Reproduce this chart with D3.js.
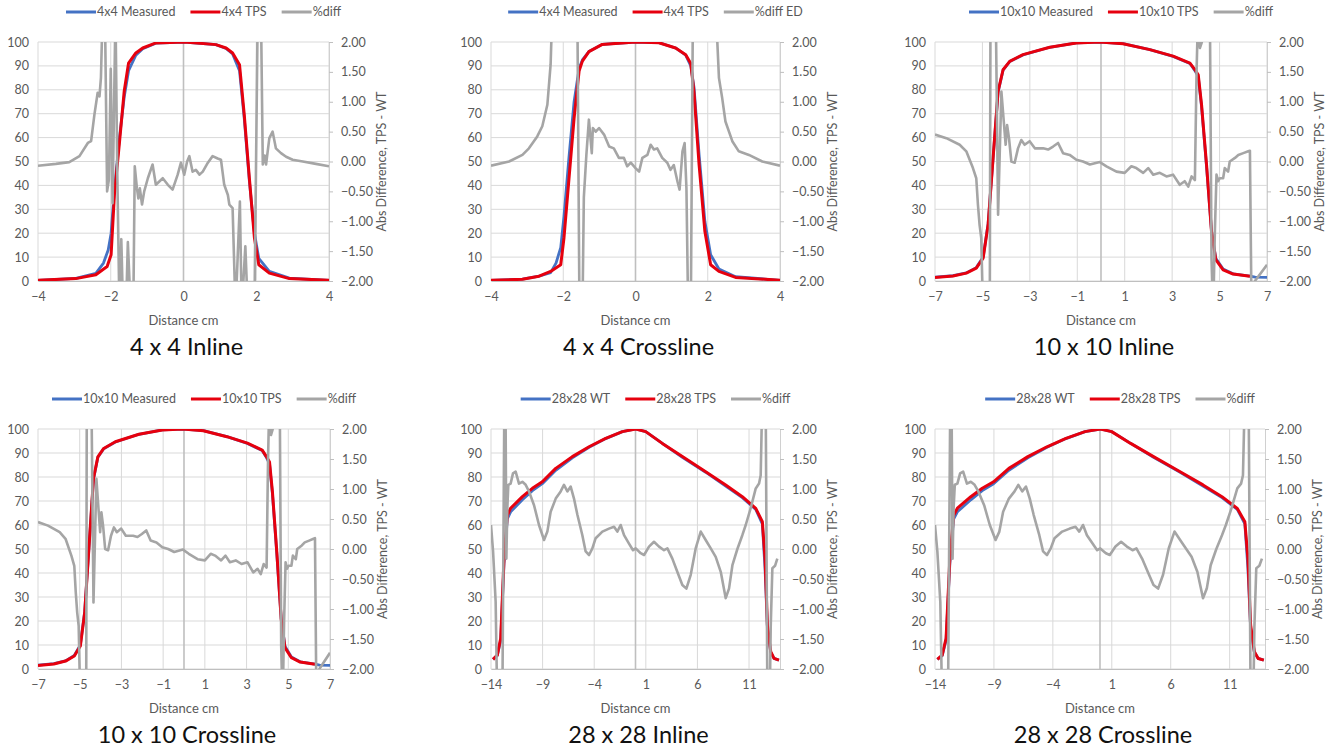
<!DOCTYPE html>
<html>
<head>
<meta charset="utf-8">
<script src="https://cdn.jsdelivr.net/npm/d3@7"></script>
<style>
  body { margin: 0; background: #fff; }
  svg { display: block; }
  text { font-family: Lato, "Open Sans", sans-serif; }
</style>
</head>
<body>
<div id="chart"></div>
<script>

// ======================= //
// DATA
// ======================= //

// 4x4 inline : [distance cm, value]
var inline4Measured = [[-4,0.3],[-2.96,1.1],[-2.41,3.2],[-2.2,7.5],[-2.07,13],[-1.99,20],[-1.9,38],[-1.76,60],[-1.63,77],[-1.51,88],[-1.31,94.5],[-1.12,97.2],[-0.76,99.5],[0.02,100],[0.89,98.9],[1.17,97.3],[1.35,95],[1.54,88],[1.67,68],[1.81,42],[1.95,20],[2.07,9.5],[2.36,4],[2.91,1.2],[4,0.3]]
var inline4Tps = [[-4,0.3],[-2.96,1.0],[-2.41,2.6],[-2.1,6.1],[-1.99,11],[-1.9,36],[-1.76,58],[-1.63,79.4],[-1.51,91.2],[-1.31,95.4],[-1.12,97.5],[-0.76,99.6],[0.02,100],[0.89,98.9],[1.17,97.5],[1.35,95.4],[1.54,90.5],[1.67,69.6],[1.81,43.1],[1.95,18],[2.07,6.8],[2.36,3.3],[2.91,1.0],[4,0.3]]
var inline4Diff = [[-4,-0.07],[-3.51,-0.04],[-3.14,-0.01],[-2.86,0.09],[-2.63,0.31],[-2.54,0.34],[-2.45,0.78],[-2.36,1.15],[-2.31,1.09],[-2.27,1.4],[-2.22,2.6],[-2.16,2.5],[-2.1,-0.5],[-2.05,-0.3],[-2.0,1.55],[-1.95,-0.7],[-1.91,0.9],[-1.87,2.5],[-1.82,-0.2],[-1.76,-2.5],[-1.71,-1.3],[-1.66,-2.5],[-1.58,-2.5],[-1.53,-1.35],[-1.45,-2.5],[-1.38,-2.5],[-1.34,-0.08],[-1.28,-0.45],[-1.24,-0.62],[-1.2,-0.45],[-1.14,-0.72],[-1.08,-0.5],[-0.98,-0.28],[-0.85,-0.05],[-0.76,-0.39],[-0.57,-0.28],[-0.43,-0.39],[-0.3,-0.47],[-0.16,-0.22],[-0.07,-0.02],[0.02,-0.22],[0.1,0.0],[0.16,0.09],[0.25,-0.17],[0.34,-0.14],[0.44,-0.22],[0.53,-0.17],[0.67,-0.02],[0.8,0.09],[0.94,0.05],[1.03,0.03],[1.12,-0.39],[1.22,-0.56],[1.26,-0.72],[1.35,-0.78],[1.43,-2.5],[1.55,-0.67],[1.6,-2.5],[1.7,-1.42],[1.77,-2.5],[1.95,-2.5],[2.04,2.5],[2.13,2.5],[2.18,-0.05],[2.23,0.1],[2.27,-0.05],[2.36,0.39],[2.45,0.5],[2.54,0.22],[2.68,0.14],[2.82,0.08],[3.0,0.03],[3.28,0.0],[3.64,-0.04],[4,-0.08]]

// 4x4 crossline
var cross4Measured = [[-4,0.3],[-3.13,0.8],[-2.67,2],[-2.35,3.5],[-2.2,7.5],[-2.07,14],[-1.98,27],[-1.84,52],[-1.7,75],[-1.56,89],[-1.47,92.5],[-1.29,96],[-0.92,99],[0,100],[0.65,99.7],[1.11,97.5],[1.39,94.5],[1.53,90],[1.62,81],[1.76,53],[1.92,25],[2.08,11],[2.31,5],[2.77,1.8],[4,0.3]]
var cross4Tps = [[-4,0.3],[-3.13,0.7],[-2.67,2.0],[-2.35,4.0],[-2.07,6.8],[-1.98,18],[-1.84,43],[-1.7,68],[-1.56,88],[-1.47,92],[-1.29,96],[-0.92,99],[0,100],[0.65,99.7],[1.11,97.5],[1.39,94.7],[1.53,91],[1.62,79],[1.76,48.7],[1.92,20.8],[2.08,6.8],[2.31,4.0],[2.77,1.5],[4,0.3]]
var cross4Diff = [[-4,-0.07],[-3.5,0.0],[-3.13,0.11],[-2.95,0.22],[-2.72,0.42],[-2.58,0.59],[-2.44,0.95],[-2.35,1.62],[-2.3,2.6],[-1.61,2.6],[-1.55,-2.6],[-1.47,-2.6],[-1.43,-0.6],[-1.36,0.11],[-1.29,0.7],[-1.21,0.14],[-1.18,0.56],[-1.1,0.5],[-1.01,0.56],[-0.87,0.45],[-0.73,0.25],[-0.6,0.22],[-0.46,0.06],[-0.32,0.06],[-0.23,-0.08],[-0.13,-0.02],[0,-0.11],[0.1,-0.17],[0.19,0.06],[0.33,0.11],[0.42,0.28],[0.51,0.2],[0.6,0.22],[0.74,0.06],[0.88,-0.02],[0.97,-0.14],[1.06,-0.06],[1.16,-0.33],[1.22,-0.47],[1.3,0.17],[1.36,0.31],[1.41,-0.45],[1.46,-2.6],[1.53,-2.6],[1.59,2.6],[2.22,2.6],[2.31,1.4],[2.4,1.06],[2.49,0.67],[2.68,0.34],[2.86,0.17],[3.14,0.11],[3.51,0.0],[4,-0.07]]

// 10x10 (inline and crossline read the same)
var field10Measured = [[-7,1.6],[-6.24,2.2],[-5.68,3.4],[-5.26,5.6],[-4.97,10],[-4.76,24],[-4.55,51.5],[-4.34,79],[-4.13,88.2],[-3.85,91.8],[-3.29,94.6],[-2.16,97.8],[-1.04,99.6],[-0.05,100],[0.93,99.3],[2.06,96.8],[3.04,94],[3.75,91],[3.96,88],[4.1,85.5],[4.24,73],[4.45,48],[4.66,21],[4.84,9.5],[5.15,5],[5.57,3],[6.28,2.0],[6.5,1.6],[7,1.5]]
var field10Tps = [[-7,1.5],[-6.24,2.1],[-5.68,3.3],[-5.26,5.4],[-4.97,9.6],[-4.76,23.6],[-4.55,51.5],[-4.34,79.4],[-4.13,88.4],[-3.85,91.9],[-3.29,94.7],[-2.16,97.8],[-1.04,99.6],[-0.05,100],[0.93,99.3],[2.06,96.8],[3.04,94.1],[3.75,91.2],[3.96,88.4],[4.1,86.3],[4.24,73.8],[4.45,48.7],[4.66,20.8],[4.84,8.9],[5.15,4.7],[5.57,2.9],[6.28,2.0]]
var field10Diff = [[-7,0.45],[-6.52,0.39],[-5.96,0.28],[-5.68,0.17],[-5.4,-0.11],[-5.26,-0.28],[-5.19,-0.72],[-5.12,-1.06],[-5.05,-1.28],[-4.97,-2.6],[-4.69,-2.6],[-4.66,2.6],[-4.44,2.6],[-4.34,-0.89],[-4.2,1.17],[-4.1,0.67],[-4.02,0.28],[-3.96,0.61],[-3.88,0.39],[-3.78,0.0],[-3.64,-0.02],[-3.5,0.22],[-3.36,0.36],[-3.22,0.28],[-3.01,0.34],[-2.79,0.22],[-2.44,0.22],[-2.23,0.2],[-2.02,0.25],[-1.81,0.31],[-1.6,0.14],[-1.32,0.11],[-1.04,0.03],[-0.76,0.0],[-0.47,-0.05],[-0.05,-0.01],[0.23,-0.08],[0.65,-0.17],[1.0,-0.19],[1.28,-0.08],[1.49,-0.11],[1.78,-0.19],[1.99,-0.11],[2.2,-0.22],[2.48,-0.19],[2.76,-0.25],[3.04,-0.22],[3.32,-0.39],[3.53,-0.33],[3.68,-0.42],[3.82,-0.25],[3.96,-0.31],[4.03,1.51],[4.1,2.6],[4.17,1.9],[4.24,1.98],[4.59,2.6],[4.66,-1.62],[4.73,-2.6],[4.8,-1.2],[4.87,-0.22],[4.94,-0.33],[5.01,-0.28],[5.15,-0.28],[5.22,-0.11],[5.36,-0.17],[5.43,0.0],[5.65,0.06],[5.79,0.11],[6.0,0.14],[6.21,0.17],[6.28,0.18],[6.35,-2.6],[6.49,-2.0],[7,-1.73]]

// 28x28 (inline and crossline read the same)
var field28Measured = [[-13.8,4],[-13.39,5.6],[-13.06,12],[-12.74,44],[-12.42,62.5],[-12.1,65.5],[-10.96,70.5],[-9.99,74.3],[-9.03,77.2],[-7.73,82.8],[-6.12,88],[-4.5,92.4],[-2.89,96],[-1.27,98.9],[0.02,100],[0.99,98.9],[2.6,94],[4.54,88.2],[6.8,82],[8.74,76.2],[10.35,71.4],[11.65,66.5],[12.29,60.5],[12.55,42],[12.78,17],[13.1,7],[13.42,4.4],[13.9,3.7]]
var field28Tps = [[-13.8,4],[-13.39,5.8],[-13.06,12.8],[-12.74,46],[-12.42,64],[-12.1,67],[-10.96,71.8],[-9.99,75.3],[-9.03,78],[-7.73,83.6],[-6.12,88.5],[-4.5,92.6],[-2.89,96.1],[-1.27,98.9],[0.02,100],[0.99,98.9],[2.6,94],[4.54,88.5],[6.8,82.2],[8.74,76.7],[10.35,71.8],[11.65,66.9],[12.29,61.4],[12.55,46],[12.78,18.3],[13.1,7.2],[13.42,4.4],[13.9,3.7]]
var field28Diff = [[-14,0.4],[-13.8,-0.04],[-13.55,-0.88],[-13.39,-2.6],[-12.9,-2.6],[-12.7,2.6],[-12.6,2.6],[-12.51,-0.16],[-12.42,0.68],[-12.32,1.07],[-12.1,1.09],[-11.87,1.26],[-11.61,1.29],[-11.29,1.09],[-10.96,1.12],[-10.64,1.07],[-10.32,0.96],[-9.83,0.73],[-9.35,0.4],[-8.86,0.15],[-8.54,0.29],[-8.22,0.62],[-7.73,0.84],[-7.25,0.96],[-6.93,1.07],[-6.6,0.96],[-6.28,1.04],[-5.96,0.84],[-5.63,0.57],[-5.15,0.23],[-4.83,-0.04],[-4.5,-0.1],[-4.18,0.01],[-3.86,0.18],[-3.21,0.29],[-2.57,0.34],[-2.08,0.37],[-1.76,0.29],[-1.44,0.4],[-1.11,0.23],[-0.63,0.09],[-0.24,-0.02],[0.02,0.01],[0.5,-0.07],[0.83,-0.1],[1.31,0.04],[1.79,0.12],[2.28,0.04],[2.76,-0.02],[3.09,0.01],[3.57,-0.16],[4.05,-0.38],[4.54,-0.6],[4.93,-0.66],[5.35,-0.43],[5.83,0.01],[6.32,0.29],[6.8,0.15],[7.29,0.01],[7.77,-0.13],[8.26,-0.38],[8.74,-0.82],[9.06,-0.66],[9.39,-0.27],[9.87,0.0],[10.35,0.23],[10.68,0.4],[11.16,0.68],[11.65,1.01],[11.97,1.09],[12.13,1.23],[12.29,2.6],[12.61,2.6],[12.78,-2.6],[13.0,-2.6],[13.1,-1.3],[13.26,-0.32],[13.52,-0.28],[13.74,-0.16]]

var leftTicks = [0,10,20,30,40,50,60,70,80,90,100]
var rightTicks = [-2,-1.5,-1,-0.5,0,0.5,1,1.5,2]

var panels = [
  {title:"4 x 4 Inline", names:["4x4 Measured","4x4 TPS","%diff"], domain:[-4,4], ticks:[-4,-2,0,2,4], measured:inline4Measured, tps:inline4Tps, diff:inline4Diff},
  {title:"4 x 4 Crossline", names:["4x4 Measured","4x4 TPS","%diff ED"], domain:[-4,4], ticks:[-4,-2,0,2,4], measured:cross4Measured, tps:cross4Tps, diff:cross4Diff},
  {title:"10 x 10 Inline", names:["10x10 Measured","10x10 TPS","%diff"], domain:[-7,7], ticks:[-7,-5,-3,-1,1,3,5,7], measured:field10Measured, tps:field10Tps, diff:field10Diff},
  {title:"10 x 10 Crossline", names:["10x10 Measured","10x10 TPS","%diff"], domain:[-7,7], ticks:[-7,-5,-3,-1,1,3,5,7], measured:field10Measured, tps:field10Tps, diff:field10Diff},
  {title:"28 x 28 Inline", names:["28x28 WT","28x28 TPS","%diff"], domain:[-14,14], ticks:[-14,-9,-4,1,6,11], measured:field28Measured, tps:field28Tps, diff:field28Diff},
  {title:"28 x 28 Crossline", names:["28x28 WT","28x28 TPS","%diff"], domain:[-14,14], ticks:[-14,-9,-4,1,6,11], measured:field28Measured, tps:field28Tps, diff:field28Diff}
]

// plot boxes (layout only)
var boxes = [
  {l:38, r:329, t:42, b:281},
  {l:491, r:780, t:42, b:281},
  {l:935, r:1267, t:42, b:281},
  {l:38, r:330, t:429, b:669},
  {l:491, r:780, t:429, b:669},
  {l:935, r:1265, t:429, b:669}
]

var colors = {measured:"#4472c4", tps:"#e6000e", diff:"#a5a5a5"}
var labelColor = "#595959"
var gridColor = "#d9d9d9"

// ======================= //
// SVG
// ======================= //

var svg = d3.select("#chart")
  .append("svg")
    .attr("width", 1338)
    .attr("height", 749)

panels.forEach(function(p, i){
  var box = boxes[i]
  var g = svg.append("g")

  var x = d3.scaleLinear().domain(p.domain).range([box.l, box.r])
  var y = d3.scaleLinear().domain([0,100]).range([box.b, box.t])
  var y2 = d3.scaleLinear().domain([-2,2]).range([box.b, box.t])

  // horizontal grid
  g.selectAll(".hgrid")
    .data(leftTicks)
    .enter()
    .append("line")
      .attr("x1", box.l).attr("x2", box.r)
      .attr("y1", function(d){ return y(d) }).attr("y2", function(d){ return y(d) })
      .style("stroke", gridColor).style("stroke-width", 1)

  // vertical grid
  g.selectAll(".vgrid")
    .data(p.ticks)
    .enter()
    .append("line")
      .attr("x1", function(d){ return x(d) }).attr("x2", function(d){ return x(d) })
      .attr("y1", box.t).attr("y2", box.b)
      .style("stroke", gridColor).style("stroke-width", 1)

  // value axis crossing at x = 0
  g.append("line")
    .attr("x1", x(0)).attr("x2", x(0))
    .attr("y1", box.t).attr("y2", box.b)
    .style("stroke", "#bfbfbf").style("stroke-width", 1.6)

  // bottom axis
  var xAxis = g.append("g")
    .attr("transform", "translate(0," + box.b + ")")
    .call(d3.axisBottom(x).tickValues(p.ticks).tickSize(0).tickPadding(11).tickFormat(d3.format("d")))
  xAxis.select(".domain").style("stroke", "#bfbfbf")
  xAxis.selectAll("text").style("font-size", "12.5px").style("fill", labelColor).style("font-family", "Lato, sans-serif")

  // left axis
  var yAxis = g.append("g")
    .attr("transform", "translate(" + box.l + ",0)")
    .call(d3.axisLeft(y).tickValues(leftTicks).tickSize(0).tickPadding(9))
  yAxis.select(".domain").remove()
  yAxis.selectAll("text").style("font-size", "12.5px").style("fill", labelColor).style("font-family", "Lato, sans-serif")

  // right axis
  var rAxis = g.append("g")
    .attr("transform", "translate(" + box.r + ",0)")
    .call(d3.axisRight(y2).tickValues(rightTicks).tickSize(4).tickSizeOuter(0).tickPadding(8).tickFormat(d3.format(".2f")))
  rAxis.select(".domain").style("stroke", "#d0d0d0")
  rAxis.selectAll(".tick line").style("stroke", "#bfbfbf")
  rAxis.selectAll("text").style("font-size", "12.5px").style("fill", labelColor).style("font-family", "Lato, sans-serif")

  g.append("text")
    .attr("transform", "translate(" + (box.r + 57) + "," + ((box.t + box.b) / 2) + ")rotate(-90)")
    .attr("text-anchor", "middle")
    .style("font-size", "12.5px")
    .style("fill", labelColor)
    .text("Abs Difference, TPS - WT")

  g.append("text")
    .attr("x", (box.l + box.r) / 2)
    .attr("y", box.b + 44)
    .attr("text-anchor", "middle")
    .style("font-size", "13px")
    .style("fill", labelColor)
    .text("Distance cm")

  g.append("text")
    .attr("x", (box.l + box.r) / 2 + 3)
    .attr("y", box.b + 74)
    .attr("text-anchor", "middle")
    .style("font-size", "23.5px")
    .style("fill", "#111")
    .text(p.title)

  // clip for the curves
  svg.append("clipPath")
    .attr("id", "clip" + i)
    .append("rect")
      .attr("x", box.l).attr("y", box.t)
      .attr("width", box.r - box.l).attr("height", box.b - box.t)

  var line1 = d3.line().x(function(d){ return x(d[0]) }).y(function(d){ return y(d[1]) })
  var line2 = d3.line().x(function(d){ return x(d[0]) }).y(function(d){ return y2(d[1]) })

  var curves = g.append("g").attr("clip-path", "url(#clip" + i + ")")

  curves.append("path")
    .datum(p.measured)
    .attr("d", line1)
    .style("fill", "none").style("stroke", colors.measured).style("stroke-width", 2.8)
    .style("stroke-linejoin", "round")

  curves.append("path")
    .datum(p.tps)
    .attr("d", line1)
    .style("fill", "none").style("stroke", colors.tps).style("stroke-width", 3)
    .style("stroke-linejoin", "round")

  curves.append("path")
    .datum(p.diff)
    .attr("d", line2)
    .style("fill", "none").style("stroke", colors.diff).style("stroke-width", 2.6)
    .style("stroke-linejoin", "round")

  // legend
  var legend = g.append("g")
  var keys = [colors.measured, colors.tps, colors.diff]
  var cx = 0
  p.names.forEach(function(name, k){
    legend.append("line")
      .attr("x1", cx).attr("x2", cx + 30)
      .attr("y1", 0).attr("y2", 0)
      .style("stroke", keys[k]).style("stroke-width", 3)
    var t = legend.append("text")
      .attr("x", cx + 31)
      .attr("y", 4)
      .style("font-size", "12.5px")
      .style("fill", labelColor)
      .text(name)
    cx = cx + 31 + t.node().getComputedTextLength() + 15
  })
  var legendW = cx - 15
  legend.attr("transform", "translate(" + ((box.l + box.r) / 2 + 20 - legendW / 2) + "," + (box.t - 30) + ")")
})

</script>
</body>
</html>
